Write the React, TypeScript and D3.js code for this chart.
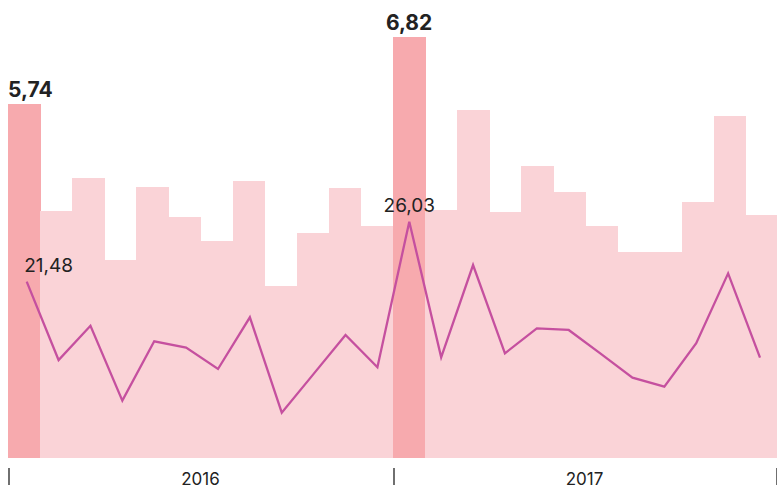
import React from 'react'
import { scaleBand, scaleLinear, line } from 'd3'

const months = [
  '2016-01', '2016-02', '2016-03', '2016-04', '2016-05', '2016-06',
  '2016-07', '2016-08', '2016-09', '2016-10', '2016-11', '2016-12',
  '2017-01', '2017-02', '2017-03', '2017-04', '2017-05', '2017-06',
  '2017-07', '2017-08', '2017-09', '2017-10', '2017-11', '2017-12',
]
const barValues = [
  5.74, 4.0, 4.54, 3.21, 4.39, 3.91, 3.52, 4.49, 2.78, 3.65, 4.38, 3.76,
  6.82, 4.02, 5.64, 3.99, 4.73, 4.31, 3.76, 3.34, 3.34, 4.15, 5.54, 3.94,
]
const lineValues = [
  21.48, 15.54, 18.14, 12.46, 16.96, 16.48, 14.86, 18.78, 11.55, 14.49, 17.44, 14.99,
  26.03, 15.75, 22.74, 16.05, 17.94, 17.82, 16.02, 14.2, 13.52, 16.81, 22.11, 15.72,
]
const years = ['2016', '2017']
const highlighted = [0, 12]

const W = 777
const H = 488
const baseY = 458

const fmt = (v: number) => v.toFixed(2).replace('.', ',')

const App = () => {
  const x = scaleBand<string>().domain(months).range([8, 778]).padding(0)
  const y = scaleLinear().domain([0, 7]).range([baseY, baseY - 7 * 61.7])
  const xl = scaleLinear().domain([0, months.length - 1]).range([26.7, 760])
  const yl = scaleLinear().domain([10, 30]).range([433.1, 169.3])

  const path = line<number>()
    .x((d, i) => xl(i))
    .y(d => yl(d))(lineValues)

  const bw = x.bandwidth()
  const yearStarts = years.map((yr, i) => x(months[i * 12]) as number)
  const ticks = [...yearStarts, Math.min(x.range()[1], W - 1)]

  return (
    <div style={{ position: 'absolute', left: 0, top: 0 }}>
      <svg width={W} height={H} style={{ display: 'block', fontFamily: 'Inter, sans-serif' }}>
        <g shapeRendering="crispEdges">
          {barValues.map((v, i) => (
            <rect
              key={months[i]}
              x={x(months[i])}
              y={y(v)}
              width={bw + 0.5}
              height={baseY - y(v)}
              fill={highlighted.includes(i) ? '#f7aaae' : '#fad3d7'}
            />
          ))}
        </g>
        <path d={path || ''} fill="none" stroke="#c5509f" strokeWidth={2.3} strokeLinejoin="miter" />
        {highlighted.map(i => {
          const cx = (x(months[i]) as number) + bw / 2
          const first = i === 0
          return (
            <g key={'lab' + i}>
              <text
                x={first ? (x(months[i]) as number) : cx}
                y={y(barValues[i]) - 7}
                textAnchor={first ? 'start' : 'middle'}
                fontSize={21}
                fontWeight={700}
                fill="#222"
              >
                {fmt(barValues[i])}
              </text>
              <text
                x={first ? xl(i) - 2.5 : xl(i)}
                y={yl(lineValues[i]) - 10}
                textAnchor={first ? 'start' : 'middle'}
                fontSize={19}
                fill="#222"
              >
                {fmt(lineValues[i])}
              </text>
            </g>
          )
        })}
        {ticks.map((t, i) => (
          <line key={'t' + i} x1={t + 1} x2={t + 1} y1={468} y2={485} stroke="#222" strokeWidth={1.3} />
        ))}
        {years.map((yr, i) => (
          <text
            key={yr}
            x={(ticks[i] + ticks[i + 1]) / 2}
            y={485}
            textAnchor="middle"
            fontSize={17}
            fill="#222"
          >
            {yr}
          </text>
        ))}
      </svg>
    </div>
  )
}

export default App
